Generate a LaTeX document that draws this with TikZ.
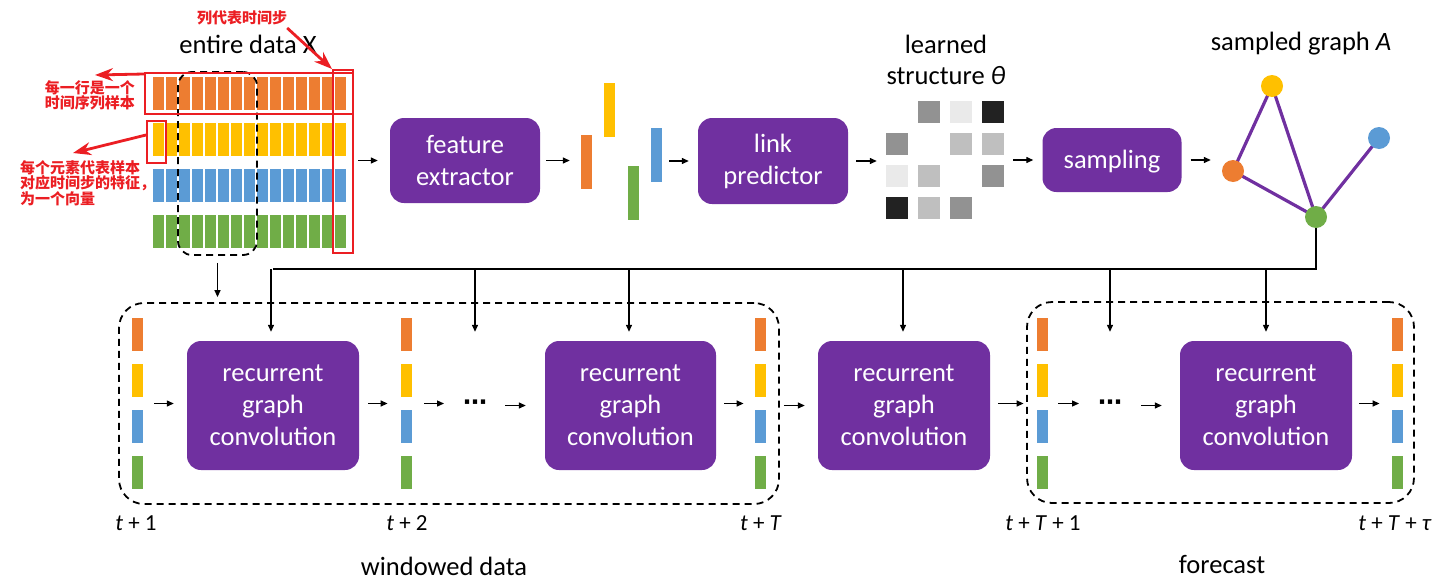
\documentclass[tikz,border=0pt]{standalone}
\usepackage{fontspec}
\setmainfont{Carlito}
\newfontfamily\cjk{Noto Sans CJK SC}
\newfontfamily\dejavu{DejaVu Sans}
\usetikzlibrary{arrows.meta,calc,fit}

\definecolor{vorange}{RGB}{237,125,49}
\definecolor{vyellow}{RGB}{255,192,0}
\definecolor{vblue}{RGB}{91,155,213}
\definecolor{vgreen}{RGB}{112,173,71}
\definecolor{vpurple}{RGB}{112,48,160}
\definecolor{annot}{RGB}{235,30,35}
\definecolor{gmid}{RGB}{146,146,146}
\definecolor{glight}{RGB}{234,234,234}
\definecolor{gdark}{RGB}{34,34,34}
\definecolor{gpale}{RGB}{191,191,191}

\tikzset{
  proc/.style={rounded corners=14pt, fill=vpurple, text=white, align=center,
    inner sep=0pt, font=\fontsize{26.5}{32}\selectfont},
  arr/.style={-{Triangle[length=7pt,width=6pt]}, line width=1.3pt},
  wire/.style={line width=1.3pt},
  bar/.style={inner sep=0pt, minimum width=11pt, minimum height=33pt},
  fbar/.style={inner sep=0pt, minimum width=11pt, minimum height=54pt},
  cell/.style={inner sep=0pt, minimum size=22pt},
  gnode/.style={circle, inner sep=0pt, minimum size=22pt},
  gedge/.style={vpurple, line width=3.2pt},
  dbox/.style={draw, dash pattern=on 7pt off 5pt, line width=1.8pt, inner sep=0pt},
  redbox/.style={draw=annot, line width=2pt, inner sep=0pt},
  redarr/.style={annot, line width=2.8pt, -{Stealth[length=18pt,width=13pt]}},
  redtxt/.style={annot, font=\cjk\bfseries\fontsize{15}{15}\selectfont, inner sep=0pt},
  title/.style={font=\fontsize{26.5}{31}\selectfont, align=center, inner sep=0pt},
  tlab/.style={font=\fontsize{23}{26}\selectfont, inner sep=0pt},
  ellip/.style={inner sep=0pt, anchor=base, font=\dejavu\bfseries\fontsize{24}{24}\selectfont},
}

% a column of four feature bars, plus a node spanning it
\newcommand{\barcolumn}[3]{%
  \node[bar, fill=vorange] (#1-o) at (#2,#3+16.5) {};
  \node[bar, fill=vyellow] (#1-y) at (#2,#3+62.5) {};
  \node[bar, fill=vblue]   (#1-b) at (#2,#3+108.5) {};
  \node[bar, fill=vgreen]  (#1-g) at (#2,#3+154.5) {};
  \node[fit=(#1-o)(#1-g), inner sep=0pt] (#1) {};
}

\begin{document}
\begin{tikzpicture}[x=1pt,y=-1pt]
\useasboundingbox (0,0) rectangle (1436,584);

% ---------- entire data matrix ----------
\foreach \col [count=\r from 0] in {vorange,vyellow,vblue,vgreen}{
  \foreach \c in {0,...,14}{
    \fill[\col] (153+13*\c, 77+46*\r) rectangle ++(11,33);
  }
}
\node[inner sep=0pt, minimum width=193pt, minimum height=171pt] (mat) at (249.5,162.5) {};
\node[title] (dtitle) at (248,44) {entire data X};
\node[dbox, rounded corners=14pt, minimum width=79pt, minimum height=183pt] (mdash) at (217.5,163.5) {};

% annotations
\node[redbox, minimum width=208pt, minimum height=41pt] (rowbox) at (249,93.5) {};
\node[redbox, minimum width=20pt, minimum height=183pt] (colbox) at (343,161.5) {};
\node[redbox, minimum width=19pt, minimum height=42pt] (cellbox) at (156.5,142) {};
\node[redtxt] (coltxt) at (242,18) {列代表时间步};
\node[redtxt, align=center] (rowtxt) at (90,95) {每一行是一个\\时间序列样本};
\node[redtxt, align=left, anchor=west] (celltxt) at (20,183) {每个元素代表样本\\对应时间步的特征，\\为一个向量};
\coordinate (rowtip) at (95,75);
\coordinate (celltip) at (73,153);
\draw[redarr] (rowbox.west |- 0,74) -- (rowtip);
\draw[redarr] (cellbox.west |- 0,135) -- (celltip);
\draw[redarr] (coltxt.east |- 0,28) -- (colbox.north west);

% ---------- top pipeline ----------
\node[proc, minimum width=150pt, minimum height=85pt] (fe) at (465,160.5) {feature\\extractor};
\node[fbar, fill=vorange] (fo) at (586.5,162) {};
\node[fbar, fill=vyellow] (fy) at (609.5,110) {};
\node[fbar, fill=vgreen]  (fg) at (633.5,193) {};
\node[fbar, fill=vblue]   (fb) at (656.5,155) {};
\node[proc, minimum width=150pt, minimum height=86pt] (lp) at (773,161) {link\\predictor};

% learned structure
\foreach \row/\vals in {0/{none,gmid,glight,gdark},1/{gmid,none,gpale,gpale},2/{glight,gpale,none,gmid},3/{gdark,gpale,gmid,none}}{
  \foreach \v [count=\k from 0] in \vals{
    \node[cell, fill=\v] (th-\row-\k) at (897+32*\k, 112+32*\row) {};
  }
}
\node[inner sep=0pt, minimum width=119pt, minimum height=119pt] (theta) at (945.5,160.5) {};
\node[title] (ttitle) at (946,59.5) {learned\\structure \textit{θ}};

\node[proc, minimum width=139pt, minimum height=64pt, text depth=2pt] (samp) at (1112,160) {sampling};

% sampled graph
\node[title] (gtitle) at (1301,44) {sampled graph \textit{A}};
\coordinate (pY) at (1272,86);
\coordinate (pB) at (1379,138);
\coordinate (pO) at (1233,171);
\coordinate (pG) at (1316,217);
\draw[gedge] (pY) -- (pO) -- (pG) -- (pY);
\draw[gedge] (pB) -- (pG);
\node[gnode, fill=vyellow] (gY) at (pY) {};
\node[gnode, fill=vblue]   (gB) at (pB) {};
\node[gnode, fill=vorange] (gO) at (pO) {};
\node[gnode, fill=vgreen]  (gG) at (pG) {};

\draw[arr, shorten <=12pt, shorten >=12pt] (mat.east |- fe.west) -- (fe.west);
\draw[arr, shorten <=6pt, shorten >=11pt] (fe.east) -- (fe.east -| fo.west);
\draw[arr, shorten <=7pt, shorten >=9pt] (fb.east |- lp.west) -- (lp.west);
\draw[arr, shorten <=8pt, shorten >=9pt] (lp.east) -- (lp.east -| theta.west);
\draw[arr, shorten <=8pt, shorten >=9pt] (theta.east |- samp.west) -- (samp.west);
\draw[arr, shorten <=9pt, shorten >=11pt] (samp.east) -- (samp.east -| gO.west);

% ---------- bottom: recurrent unrolling ----------
\node[dbox, rounded corners=25pt, minimum width=660pt, minimum height=201pt] (win) at (449,403.5) {};
\node[dbox, rounded corners=25pt, minimum width=387pt, minimum height=201pt] (fc) at (1220.5,402.5) {};

\barcolumn{c1}{137.5}{318}
\barcolumn{c2}{406.5}{318}
\barcolumn{cT}{760.5}{318}
\barcolumn{cF}{1042.5}{318}
\barcolumn{cE}{1397.5}{318}

\node[proc, minimum width=172pt, minimum height=129pt] (rg1) at (273,405.5) {recurrent\\graph\\convolution};
\node[proc, minimum width=171pt, minimum height=129pt] (rg2) at (630.5,405.5) {recurrent\\graph\\convolution};
\node[proc, minimum width=172pt, minimum height=129pt] (rg3) at (904,405.5) {recurrent\\graph\\convolution};
\node[proc, minimum width=172pt, minimum height=129pt] (rg4) at (1266,405.5) {recurrent\\graph\\convolution};

\node[ellip] (dots1) at (475,410) {⋯};
\node[ellip] (dots2) at (1110,410) {⋯};

\draw[arr, shorten <=11pt, shorten >=13pt] (c1.east) -- (c1.east -| rg1.west);
\draw[arr, shorten <=9pt, shorten >=13pt] (rg1.east |- c2.west) -- (c2.west);
\draw[arr, shorten <=12pt, shorten >=31pt] (c2.east) -- (c2.east -| dots1.base);
\draw[arr, shorten <=30pt, shorten >=19pt] (dots1.base |- rg2.west) -- (rg2.west);
\draw[arr, shorten <=8pt, shorten >=11pt] (rg2.east |- cT.west) -- (cT.west);
\draw[arr, shorten <=4pt, shorten >=13pt] (win.east |- rg3.west) -- (rg3.west);
\draw[arr, shorten <=8pt, shorten >=13pt] (rg3.east |- cF.west) -- (cF.west);
\draw[arr, shorten <=10pt, shorten >=31pt] (cF.east) -- (cF.east -| dots2.base);
\draw[arr, shorten <=31pt, shorten >=18pt] (dots2.base |- rg4.west) -- (rg4.west);
\draw[arr, shorten <=7pt, shorten >=12pt] (rg4.east |- cE.west) -- (cE.west);

% windowed data taken from the matrix
\draw[arr, shorten <=7pt, shorten >=5pt] (mdash.south) -- (mdash.south |- win.north);

% the sampled graph is fed to every recurrent step
\coordinate (bus) at (1316,269);
\draw[wire] (gG.south) -- (bus) -- (bus -| rg1.north);
\draw[arr, shorten >=9pt] (bus -| 271,0) -- (271,0 |- rg1.north);
\draw[arr, shorten >=9pt] (bus -| dots1.base) -- (dots1.base |- rg1.north);
\draw[arr, shorten >=9pt] (bus -| 629,0) -- (629,0 |- rg2.north);
\draw[arr, shorten >=9pt] (bus -| 903,0) -- (903,0 |- rg3.north);
\draw[arr, shorten >=9pt] (bus -| dots2.base) -- (dots2.base |- rg4.north);
\draw[arr, shorten >=9pt] (bus -| rg4.north) -- (rg4.north);

% time labels
\node[tlab] (l1) at (136,523) {\textit{t} + 1};
\node[tlab] (l2) at (407,523) {\textit{t} + 2};
\node[tlab] (lT) at (761,523) {\textit{t} + \textit{T}};
\node[tlab] (lF) at (1043,523) {\textit{t} + \textit{T} + 1};
\node[tlab] (lE) at (1395,523) {\textit{t} + \textit{T} + \textit{τ}};

\node[title] (wlab) at (444,566) {windowed data};
\node[title] (flab) at (1222,565) {forecast};
\end{tikzpicture}
\end{document}
